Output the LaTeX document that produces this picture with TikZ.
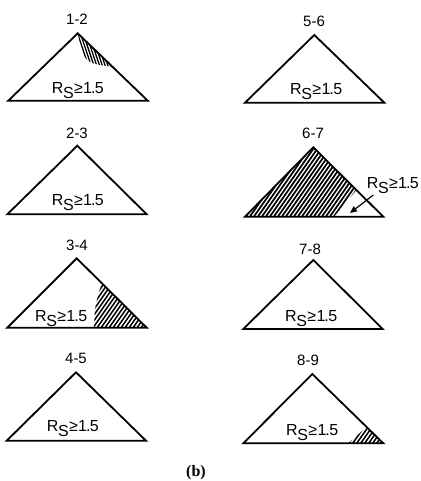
\documentclass[tikz,border=0pt]{standalone}
\usepackage{fontspec}
\setmainfont{Liberation Sans}
\newfontfamily\serifb{Liberation Serif}
\usetikzlibrary{arrows.meta}
\newcommand{\rslabel}{R\kern-0.3pt\raisebox{-0.32em}{S}\kern0.3pt≥\kern0.3pt1\kern-1pt.\kern-0.6pt5}
\tikzset{
  tri/.style={draw=black,line width=1.8pt,line join=miter},
  hatch/.style={line width=1.5pt,black},
  ttl/.style={anchor=base,inner sep=0pt,font=\fontsize{15}{15}\selectfont},
  rs/.style={anchor=base west,inner sep=0pt,font=\fontsize{16}{16}\selectfont},
}
\begin{document}
\begin{tikzpicture}[x=1pt,y=-1pt]
\useasboundingbox (0,0) rectangle (420,481);
% ---------- 1-2 ----------
\begin{scope}
\clip (77.7,33.3) -- (114,67) .. controls (84,63) .. (77.7,33.3) -- cycle;
\foreach \s in {30,32.8,...,125} \draw[hatch,line width=1.3pt] (\s,25) -- ++(30,90);
\end{scope}
\draw[tri] (8.3,100.7) -- (77.7,33.3) -- (147.7,100.7) -- cycle;
\node[ttl] (t12) at (77,25) {1-2};
\node[rs] (r12) at (51.7,93.5) {\rslabel};
% ---------- 2-3 ----------
\draw[tri] (7.3,214.3) -- (77.3,145.7) -- (146.7,214.3) -- cycle;
\node[ttl] (t23) at (77,138.3) {2-3};
\node[rs] (r23) at (51.7,205) {\rslabel};
% ---------- 3-4 ----------
\begin{scope}
\clip (94,327.7) .. controls (95,305) .. (101.7,283.3) -- (146.7,327.7) -- cycle;
\foreach \s in {-20,-16,...,160} \draw[hatch] (\s,335) -- ++(70,-100);
\end{scope}
\draw[tri] (7.3,327.7) -- (76.7,258.3) -- (146.7,327.7) -- cycle;
\node[ttl] (t34) at (77,250) {3-4};
\node[rs] (r34) at (35,321.7) {\rslabel};
% ---------- 4-5 ----------
\draw[tri] (6.7,440.7) -- (76,372.3) -- (146,440.7) -- cycle;
\node[ttl] (t45) at (76,363.3) {4-5};
\node[rs] (r45) at (46.7,431.7) {\rslabel};
% ---------- 5-6 ----------
\draw[tri] (245,102.7) -- (314.3,35) -- (384.3,102.7) -- cycle;
\node[ttl] (t56) at (314,26.7) {5-6};
\node[rs] (r56) at (290,94.3) {\rslabel};
% ---------- 6-7 ----------
\begin{scope}
\clip (245,216.7) -- (313.3,147.3) -- (356,190.5) -- (334,216.7) -- cycle;
\foreach \s in {140,144,...,360} \draw[hatch,line width=1.7pt] (\s,225) -- ++(70,-100);
\end{scope}
\draw[tri] (245,216.7) -- (313.3,147.3) -- (383.3,216.7) -- cycle;
\node[ttl] (t67) at (313,139) {6-7};
\node[rs] (r67) at (366.7,188.3) {\rslabel};
\coordinate (a67s) at (373.3,195);
\coordinate (a67e) at (350,213);
\draw[line width=1.2pt,-{Triangle[length=7pt,width=6pt]}] (a67s) -- (a67e);
% ---------- 7-8 ----------
\draw[tri] (243.3,329) -- (313.3,260) -- (382.7,329) -- cycle;
\node[ttl] (t78) at (310,254) {7-8};
\node[rs] (r78) at (285,321) {\rslabel};
% ---------- 8-9 ----------
\begin{scope}
\clip (348.3,443.3) -- (366.5,427) -- (383.3,443.3) -- cycle;
\foreach \s in {320,324,...,400} \draw[hatch] (\s,450) -- ++(35,-50);
\end{scope}
\draw[tri] (243.3,443.3) -- (312.3,374) -- (383.3,443.3) -- cycle;
\node[ttl] (t89) at (308,365) {8-9};
\node[rs] (r89) at (286,435) {\rslabel};
% ---------- caption ----------
\node[anchor=base,inner sep=0pt,font=\serifb\bfseries\fontsize{16}{16}\selectfont] (cap) at (196,476) {(b)};
\end{tikzpicture}
\end{document}
